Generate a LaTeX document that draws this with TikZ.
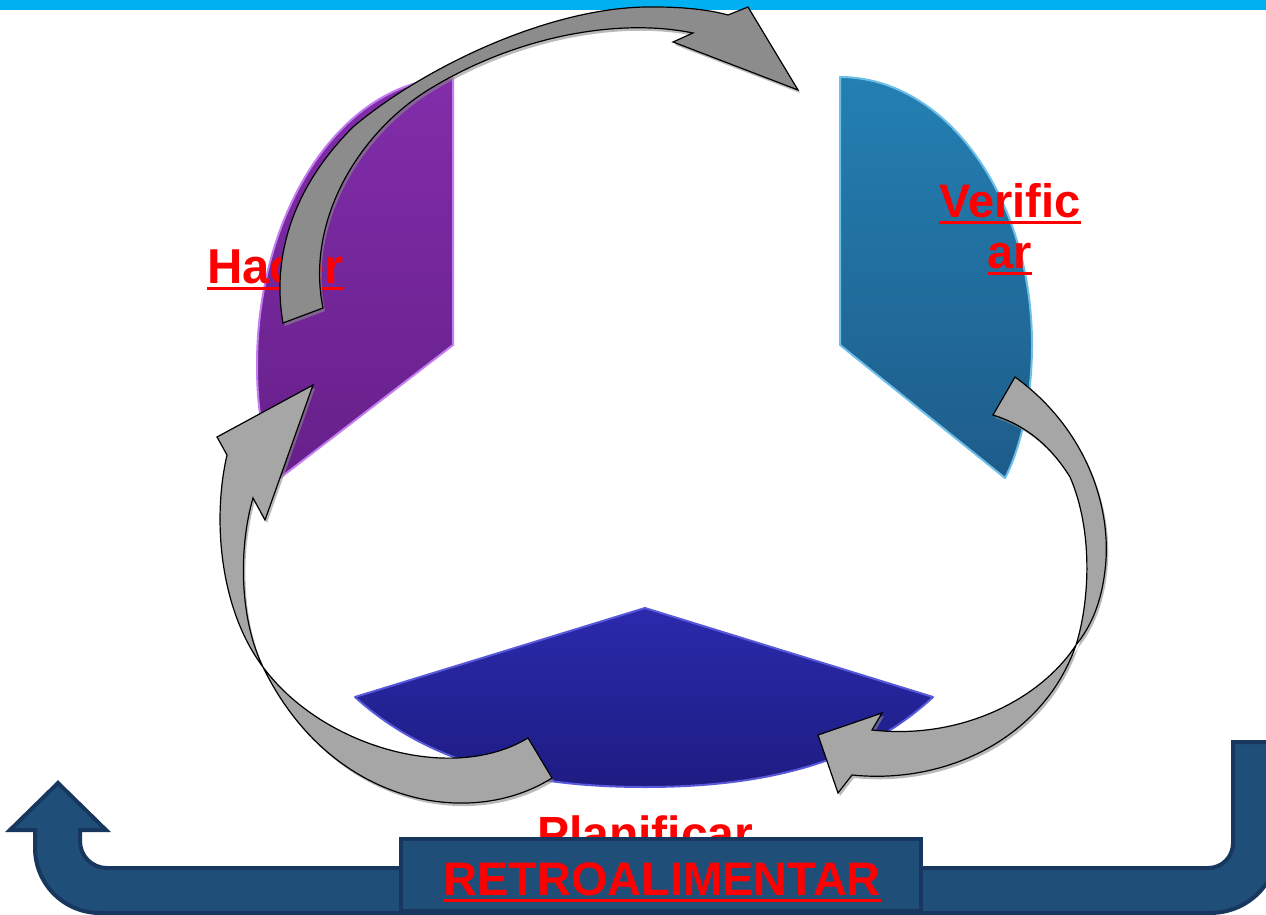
\documentclass[tikz,border=0pt]{standalone}
\usepackage{fontspec}
\setmainfont{Liberation Sans}

\definecolor{barra}{HTML}{00B0F0}
\definecolor{morado}{RGB}{130,45,170}
\definecolor{moradoosc}{RGB}{102,32,138}
\definecolor{moradobrillo}{RGB}{195,125,240}
\definecolor{azulver}{RGB}{35,128,178}
\definecolor{azulverosc}{RGB}{30,92,138}
\definecolor{azulverbrillo}{RGB}{110,190,232}
\definecolor{azulplan}{RGB}{42,42,172}
\definecolor{azulplanosc}{RGB}{30,28,130}
\definecolor{azulplanbrillo}{RGB}{88,88,218}
\definecolor{grisA}{RGB}{140,140,140}
\definecolor{grisB}{RGB}{166,166,166}
\definecolor{retro}{HTML}{1F4E79}
\definecolor{retroborde}{HTML}{17375E}

\newcommand\subrayar[1]{\setbox0\hbox{#1}\rlap{\vrule height -3.5pt depth 6.5pt width \wd0}\box0}

\tikzset{
  paso/.style={text=red, inner sep=0pt},
  sector/.style={line width=2pt, line join=round},
  flecha/.style={draw=black, line width=1.2pt, line join=miter,
    preaction={fill=black!45, opacity=0.6, transform canvas={shift={(2pt,-3pt)}}}},
  bloque/.style={draw=retroborde, fill=retro, line width=4pt, line join=miter}
}

\begin{document}
\begin{tikzpicture}[x=1pt,y=-1pt]
\useasboundingbox (0,0) rectangle (1266,915);
\fill[barra] (0,0) rectangle (1266,10);

\draw[sector, draw=moradobrillo, top color=morado, bottom color=moradoosc]
  (453,78) -- (453,345) -- (280,478) .. controls (266,452) and (257,420) .. (257,365)
  .. controls (257,207) and (345,78) .. (453,78) -- cycle;
\draw[sector, draw=azulverbrillo, top color=azulver, bottom color=azulverosc]
  (840,77) -- (840,345) -- (1005,478) .. controls (1020,450) and (1032,400) .. (1032,345)
  .. controls (1032,197) and (946,77) .. (840,77) -- cycle;
\draw[sector, draw=azulplanbrillo, top color=azulplan, bottom color=azulplanosc]
  (645,608) -- (933,697) .. controls (860,765) and (760,787) .. (645,787)
  .. controls (530,787) and (430,765) .. (355,697) -- cycle;

\node[paso, font=\bfseries\fontsize{49}{52}\selectfont, anchor=base west] (hacer) at (207,283) {\subrayar{Hacer}};
\node[paso, font=\bfseries\fontsize{47}{51}\selectfont, align=center, anchor=north] (verificar) at (1010,183) {\subrayar{Verific}\\\subrayar{ar}};
\node[paso, font=\bfseries\fontsize{48}{52}\selectfont, anchor=base west] (planificar) at (537,850) {\subrayar{Planificar}};

\draw[flecha, fill=grisA] (283,323) .. controls (272,260) and (290,190) .. (353,127)
  .. controls (420,70) and (550,5) .. (655,7) .. controls (685,7) and (710,10) .. (728,15)
  -- (748,7) -- (798,90) -- (673,42) -- (693,33)
  .. controls (620,18) and (520,35) .. (433,87) .. controls (360,130) and (305,220) .. (323,308) -- cycle;
\draw[flecha, fill=grisB] (1015,377) .. controls (1075,420) and (1110,490) .. (1106,560)
  .. controls (1103,600) and (1092,625) .. (1076,645) .. controls (1040,700) and (960,740) .. (872,730)
  -- (882,713) -- (818,735) -- (838,793) -- (852,775)
  .. controls (950,785) and (1045,735) .. (1076,645) .. controls (1090,600) and (1093,530) .. (1070,477)
  .. controls (1050,445) and (1025,425) .. (993,415) -- cycle;
\draw[flecha, fill=grisB] (313,385) -- (217,437) -- (227,455)
  .. controls (212,520) and (220,610) .. (263,667) .. controls (320,745) and (450,785) .. (528,738)
  -- (552,778) .. controls (470,830) and (330,805) .. (263,667)
  .. controls (240,620) and (238,550) .. (253,498) -- (265,520) -- cycle;

\draw[bloque] (1233,742) -- (1233,843) .. controls (1233,857) and (1222,868) .. (1208,868)
  -- (107,868) .. controls (92,868) and (80,856) .. (80,841) -- (80,830) -- (106,830)
  -- (58,783) -- (10,830) -- (35,830) -- (35,848) .. controls (35,884) and (64,913) .. (100,913)
  -- (1210,913) .. controls (1248,913) and (1278,883) .. (1278,845) -- (1278,742) -- cycle;
\draw[bloque] (401,839) rectangle (921,911);
\node[paso, font=\bfseries\fontsize{47}{50}\selectfont, anchor=base] (retroalimentar) at (662,895) {\subrayar{RETROALIMENTAR}};
\end{tikzpicture}
\end{document}
